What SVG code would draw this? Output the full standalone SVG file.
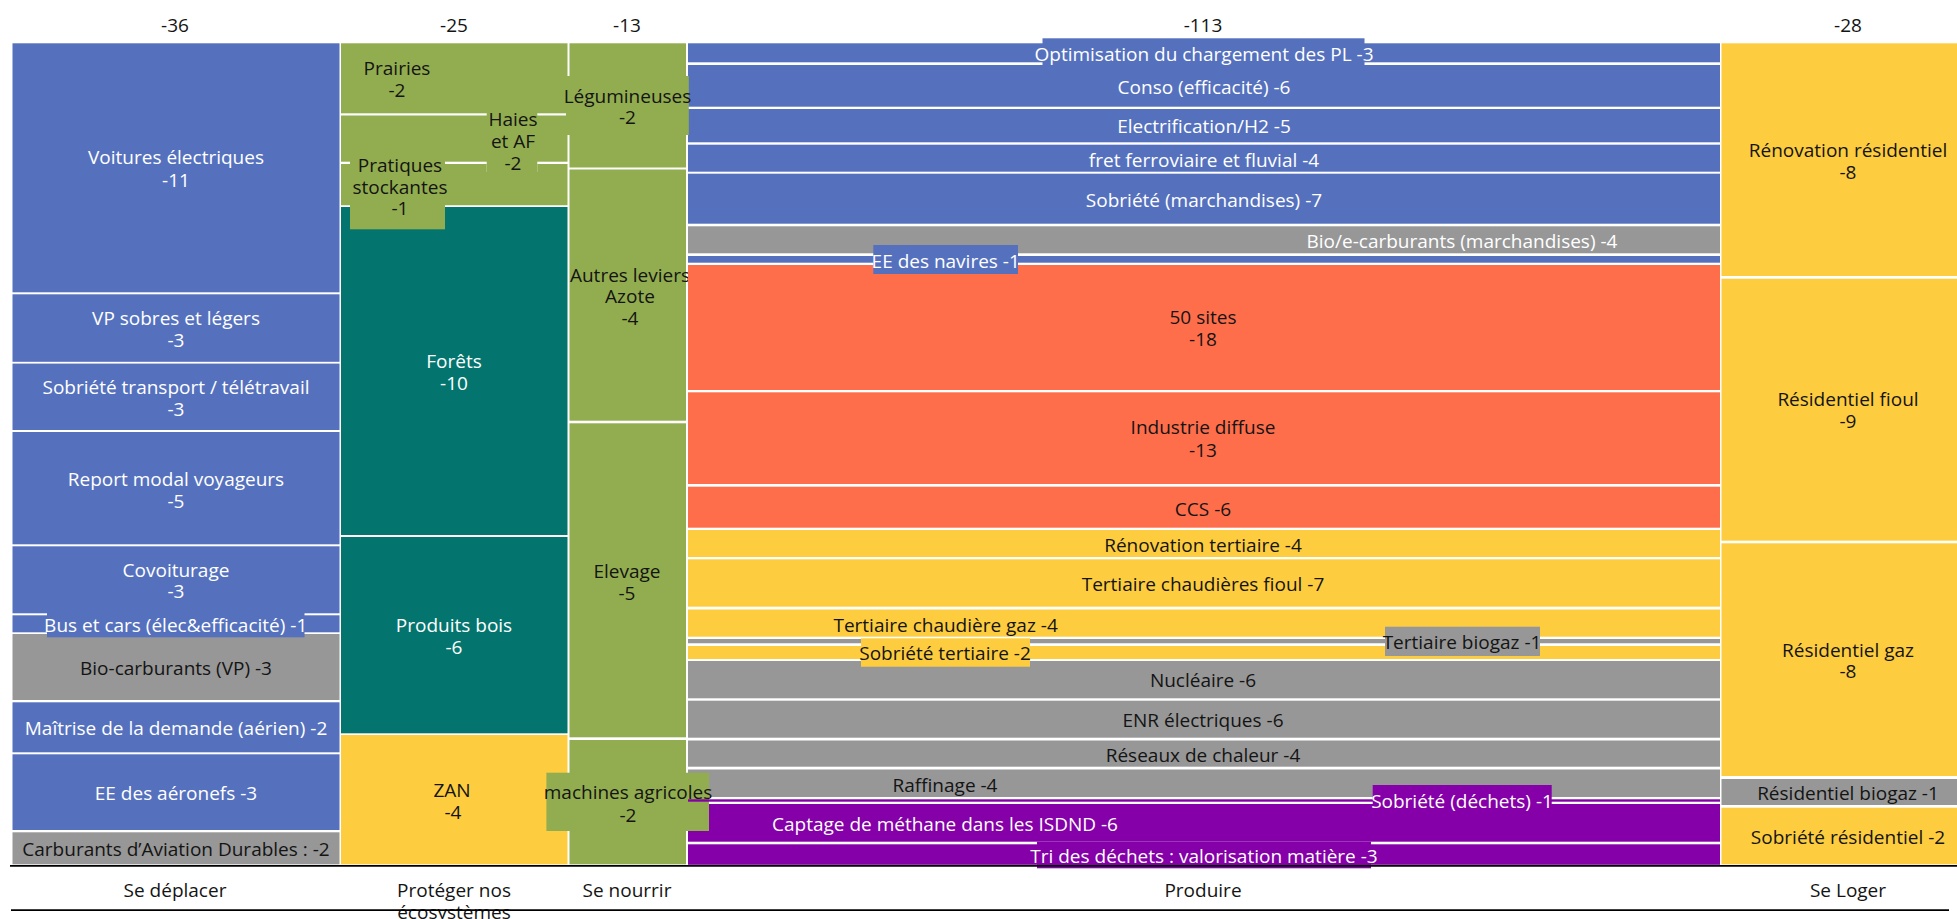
<svg xmlns="http://www.w3.org/2000/svg" width="1957" height="919" viewBox="0 0 1957 919">
<style>
text{font-family:"Open Sans","Liberation Sans",sans-serif;font-size:19px;text-anchor:middle}
.w{fill:#ffffff}
.d{fill:#141414}
.b{fill:#5571be}
.g{fill:#92ad4f}
.t{fill:#03756e}
.y{fill:#fecd3f}
.o{fill:#ff6e4b}
.gr{fill:#979797}
.p{fill:#8500a8}
.ax{stroke:#000;stroke-width:1.7}
</style>
<rect x="0" y="0" width="1957" height="919" fill="#ffffff"/>
<g id="headers">
<text class="d" x="175" y="31.5">-36</text>
<text class="d" x="454" y="31.5">-25</text>
<text class="d" x="627" y="31.5">-13</text>
<text class="d" x="1203" y="31.5">-113</text>
<text class="d" x="1848" y="31.5">-28</text>
</g>
<!-- Se deplacer -->
<g id="n-voitures"><rect class="b" x="12.5" y="43.3" width="327" height="249"/><text class="w" x="176" y="164">Voitures électriques</text><text class="w" x="176" y="186.5">-11</text></g>
<g id="n-vp"><rect class="b" x="12.5" y="294.3" width="327" height="67.5"/><text class="w" x="176" y="324.8">VP sobres et légers</text><text class="w" x="176" y="346.5">-3</text></g>
<g id="n-sobtransport"><rect class="b" x="12.5" y="363.6" width="327" height="66.4"/><text class="w" x="176" y="393.8">Sobriété transport / télétravail</text><text class="w" x="176" y="415.5">-3</text></g>
<g id="n-report"><rect class="b" x="12.5" y="432" width="327" height="112.3"/><text class="w" x="176" y="485.5">Report modal voyageurs</text><text class="w" x="176" y="507.5">-5</text></g>
<g id="n-covoit"><rect class="b" x="12.5" y="546.3" width="327" height="67"/><text class="w" x="176" y="576.5">Covoiturage</text><text class="w" x="176" y="598.2">-3</text></g>
<g id="n-biocarbvp"><rect class="gr" x="12.5" y="634" width="327" height="66"/><text class="d" x="176" y="674.8">Bio-carburants (VP) -3</text></g>
<g id="n-maitrise"><rect class="b" x="12.5" y="702.3" width="327" height="50"/><text class="w" x="176" y="734.8">Maîtrise de la demande (aérien) -2</text></g>
<g id="n-eeaero"><rect class="b" x="12.5" y="754.3" width="327" height="75.7"/><text class="w" x="176" y="799.8">EE des aéronefs -3</text></g>
<g id="n-cad"><rect class="gr" x="12.5" y="832.3" width="327" height="32"/><text class="d" x="176" y="855.8">Carburants d’Aviation Durables : -2</text></g>
<!-- Proteger -->
<g id="n-prairies"><rect class="g" x="341" y="43.3" width="226.5" height="70"/><text class="d" x="397" y="74.8">Prairies</text><text class="d" x="397" y="97.2">-2</text></g>
<g id="n-forets"><rect class="t" x="341" y="207" width="226.5" height="328"/><text class="w" x="454" y="367.5">Forêts</text><text class="w" x="454" y="389.8">-10</text></g>
<g id="n-produitsbois"><rect class="t" x="341" y="537" width="226.5" height="196.3"/><text class="w" x="454" y="631.5">Produits bois</text><text class="w" x="454" y="654.2">-6</text></g>
<g id="n-zan"><rect class="y" x="341" y="735" width="226.5" height="129.3"/><text class="d" x="452" y="796.5">ZAN</text><text class="d" x="453" y="818.8">-4</text></g>
<!-- Se nourrir -->
<g id="n-azote"><rect class="g" x="569.5" y="169.5" width="116.5" height="251.2"/><text class="d" x="630" y="281.8">Autres leviers</text><text class="d" x="630" y="303.2">Azote</text><text class="d" x="630" y="325.2">-4</text></g>
<g id="n-elevage"><rect class="g" x="569.5" y="423.3" width="116.5" height="314"/><text class="d" x="627" y="577.5">Elevage</text><text class="d" x="627" y="599.8">-5</text></g>
<!-- Produire -->
<g id="n-conso"><rect class="b" x="688" y="65" width="1032" height="41.7"/><text class="w" x="1204" y="93.8">Conso (efficacité) -6</text></g>
<g id="n-electrif"><rect class="b" x="688" y="109" width="1032" height="33.3"/><text class="w" x="1204" y="133.2">Electrification/H2 -5</text></g>
<g id="n-fret"><rect class="b" x="688" y="144.7" width="1032" height="27"/><text class="w" x="1204" y="166.5">fret ferroviaire et fluvial -4</text></g>
<g id="n-sobmarch"><rect class="b" x="688" y="173.7" width="1032" height="50"/><text class="w" x="1204" y="207.2">Sobriété (marchandises) -7</text></g>
<g id="n-bioecarb"><rect class="gr" x="688" y="226.3" width="1032" height="27"/><text class="w" x="1462" y="248.2">Bio/e-carburants (marchandises) -4</text></g>
<g id="n-50sites"><rect class="o" x="688" y="265" width="1032" height="125"/><text class="d" x="1203" y="323.8">50 sites</text><text class="d" x="1203" y="346.2">-18</text></g>
<g id="n-inddiffuse"><rect class="o" x="688" y="392.3" width="1032" height="91.7"/><text class="d" x="1203" y="434.2">Industrie diffuse</text><text class="d" x="1203" y="457.2">-13</text></g>
<g id="n-ccs"><rect class="o" x="688" y="486.7" width="1032" height="41"/><text class="d" x="1203" y="515.5">CCS -6</text></g>
<g id="n-renovtert"><rect class="y" x="688" y="530" width="1032" height="27"/><text class="d" x="1203" y="551.5">Rénovation tertiaire -4</text></g>
<g id="n-tertfioul"><rect class="y" x="688" y="559.3" width="1032" height="47.4"/><text class="d" x="1203" y="590.8">Tertiaire chaudières fioul -7</text></g>
<g id="n-tertgaz"><rect class="y" x="688" y="609.5" width="1032" height="27.2"/><text class="d" x="945.6" y="631.5">Tertiaire chaudière gaz -4</text></g>
<g id="n-nucleaire"><rect class="gr" x="688" y="661" width="1032" height="37.3"/><text class="d" x="1203" y="687.2">Nucléaire -6</text></g>
<g id="n-enr"><rect class="gr" x="688" y="700.7" width="1032" height="37"/><text class="d" x="1203" y="727.2">ENR électriques -6</text></g>
<g id="n-reseaux"><rect class="gr" x="688" y="740.5" width="1032" height="26.2"/><text class="d" x="1203" y="762.2">Réseaux de chaleur -4</text></g>
<g id="n-raffinage"><rect class="gr" x="688" y="769.5" width="1032" height="27.5"/><text class="d" x="945" y="791.5">Raffinage -4</text></g>
<g id="n-captage"><rect class="p" x="688" y="804" width="1032" height="37.7"/><text class="w" x="945" y="830.5">Captage de méthane dans les ISDND -6</text></g>
<!-- Se loger -->
<g id="n-renovres"><rect class="y" x="1721.5" y="43.3" width="260" height="232.7"/><text class="d" x="1848" y="156.5">Rénovation résidentiel</text><text class="d" x="1848" y="178.8">-8</text></g>
<g id="n-resfioul"><rect class="y" x="1721.5" y="278.7" width="260" height="262"/><text class="d" x="1848" y="405.8">Résidentiel fioul</text><text class="d" x="1848" y="428.2">-9</text></g>
<g id="n-resgaz"><rect class="y" x="1721.5" y="543.3" width="260" height="232.7"/><text class="d" x="1848" y="656.5">Résidentiel gaz</text><text class="d" x="1848" y="678.2">-8</text></g>
<g id="n-resbiogaz"><rect class="gr" x="1721.5" y="779" width="260" height="26"/><text class="d" x="1848" y="799.8">Résidentiel biogaz -1</text></g>
<g id="n-sobres"><rect class="y" x="1721.5" y="807.7" width="260" height="56.6"/><text class="d" x="1848" y="844.2">Sobriété résidentiel -2</text></g>
<!-- nodes with overflowing label boxes -->
<g id="n-bus"><rect class="b" x="12.5" y="615.3" width="327" height="17"/><rect class="b" x="47" y="612.7" width="257.5" height="24.6"/><text class="w" x="175.7" y="631.5">Bus et cars (élec&amp;efficacité) -1</text></g>
<g id="n-haies"><rect class="g" x="341" y="115.5" width="226.5" height="46.2"/><rect class="g" x="486.7" y="108" width="50.6" height="64"/><text class="d" x="513" y="125.8">Haies</text><text class="d" x="513" y="148.2">et AF</text><text class="d" x="513" y="169.8">-2</text></g>
<g id="n-pratiques"><path class="g" d="M341 164H486.7V172H537.3V164H567.5V205.3H341Z"/><rect class="g" x="350" y="153" width="95" height="76.3"/><text class="d" x="400" y="171.5">Pratiques</text><text class="d" x="400" y="193.8">stockantes</text><text class="d" x="400" y="214.8">-1</text></g>
<g id="n-legumineuses"><rect class="g" x="569.5" y="43.3" width="116.5" height="124.2"/><rect class="g" x="566" y="76" width="122.8" height="59"/><text class="d" x="627.5" y="103.2">Légumineuses</text><text class="d" x="627.5" y="124.2">-2</text></g>
<g id="n-machines"><rect class="g" x="569.5" y="740" width="116.5" height="124.3"/><rect class="g" x="546.4" y="772.7" width="162.6" height="58.3"/><text class="d" x="628" y="798.8">machines agricoles</text><text class="d" x="628" y="821.5">-2</text></g>
<g id="n-optim"><rect class="b" x="688" y="43.3" width="1032" height="19"/><rect class="b" x="1042.5" y="38.3" width="322" height="26.7"/><text class="w" x="1204" y="60.8">Optimisation du chargement des PL -3</text></g>
<g id="n-eenavires"><rect class="b" x="688" y="256" width="1032" height="6.7"/><rect class="b" x="873.3" y="245" width="144.7" height="29"/><text class="w" x="945.7" y="267.5">EE des navires -1</text></g>
<g id="n-sobtert"><rect class="y" x="688" y="646" width="1032" height="13"/><rect class="y" x="861" y="638.3" width="169" height="28.4"/><text class="d" x="945" y="659.8">Sobriété tertiaire -2</text></g>
<g id="n-tertbiogaz"><path class="gr" d="M688 639H861V643.3H688ZM1030 639H1720V643.3H1030Z"/><rect class="gr" x="1385" y="626.7" width="155" height="29.3"/><text class="d" x="1462" y="649.2">Tertiaire biogaz -1</text></g>
<g id="n-sobdechets"><rect class="p" x="688" y="799.3" width="1032" height="2.4"/><rect class="p" x="1372.7" y="785" width="179" height="25"/><text class="w" x="1462" y="808.2">Sobriété (déchets) -1</text></g>
<g id="n-tri"><rect class="p" x="688" y="844.3" width="1032" height="20.5"/><rect class="p" x="1037" y="841.7" width="334" height="26.6"/><text class="w" x="1204" y="862.5">Tri des déchets : valorisation matière -3</text></g>
<g id="axis">
<line class="ax" x1="10" y1="865.8" x2="1957" y2="865.8"/>
<text class="d" x="175" y="896.5">Se déplacer</text>
<text class="d" x="454" y="896.5">Protéger nos</text>
<text class="d" x="454" y="919">écosystèmes</text>
<text class="d" x="627" y="896.5">Se nourrir</text>
<text class="d" x="1203" y="896.5">Produire</text>
<text class="d" x="1848" y="896.5">Se Loger</text>
<line class="ax" x1="11" y1="910.2" x2="1949" y2="910.2"/>
</g>
</svg>
